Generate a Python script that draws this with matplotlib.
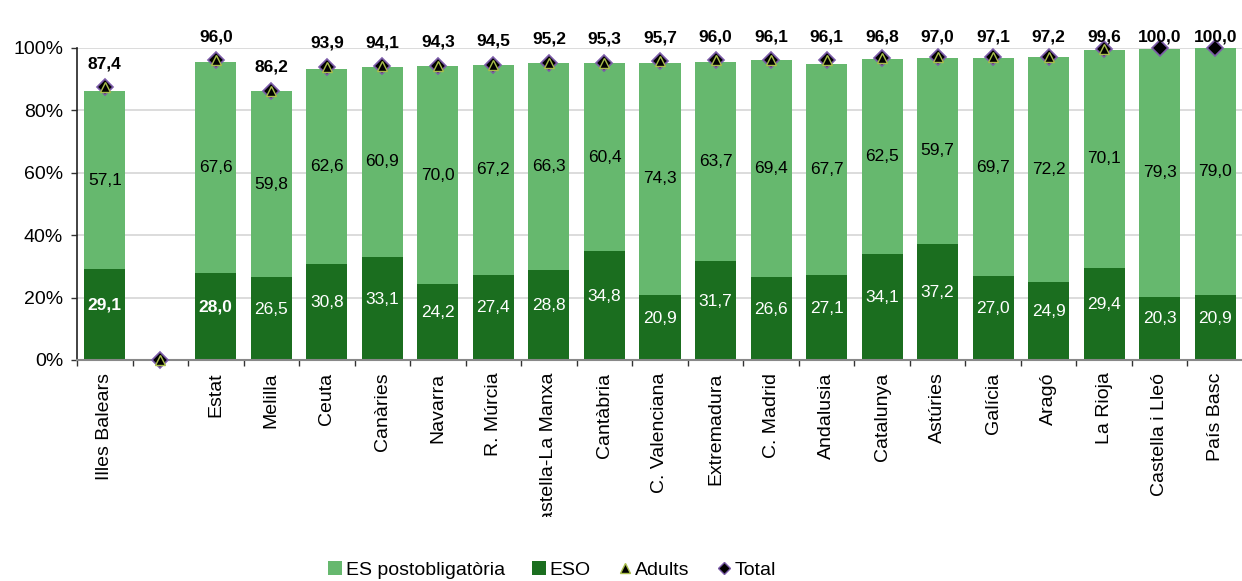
import numpy as np
import matplotlib
matplotlib.use("Agg")
import matplotlib.pyplot as plt
from matplotlib.lines import Line2D
from matplotlib.patches import Patch
from matplotlib.transforms import Bbox, TransformedBbox
from matplotlib.ticker import FixedLocator, FuncFormatter

plt.rcParams['font.family'] = ['Liberation Sans', 'DejaVu Sans']

categories = ["Illes Balears", "", "Estat", "Melilla", "Ceuta", "Canàries", "Navarra",
              "R. Múrcia", "Castella-La Manxa", "Cantàbria", "C. Valenciana", "Extremadura",
              "C. Madrid", "Andalusia", "Catalunya", "Astúries", "Galícia", "Aragó",
              "La Rioja", "Castella i Lleó", "País Basc"]
eso = [29.1, 0, 28.0, 26.5, 30.8, 33.1, 24.2, 27.4, 28.8, 34.8, 20.9, 31.7,
       26.6, 27.1, 34.1, 37.2, 27.0, 24.9, 29.4, 20.3, 20.9]
es_post = [57.1, 0, 67.6, 59.8, 62.6, 60.9, 70.0, 67.2, 66.3, 60.4, 74.3, 63.7,
           69.4, 67.7, 62.5, 59.7, 69.7, 72.2, 70.1, 79.3, 79.0]
adults = [87.4, 0, 96.0, 86.2, 93.9, 94.1, 94.3, 94.5, 95.2, 95.3, 95.7, 96.0,
          96.1, 96.1, 96.8, 97.0, 97.1, 97.2, 99.6, np.nan, np.nan]
total = [87.4, 0, 96.0, 86.2, 93.9, 94.1, 94.3, 94.5, 95.2, 95.3, 95.7, 96.0,
         96.1, 96.1, 96.8, 97.0, 97.1, 97.2, 99.6, 100.0, 100.0]
bold_eso = ["Illes Balears", "Estat"]

c_post = '#66B86E'
c_eso = '#1B6E1F'

fig = plt.figure(figsize=(12.42, 5.81), dpi=100)
ax = fig.add_axes([77/1242, (581-360)/581, (1243-77)/1242, 312/581])

x = np.arange(len(categories))
w = 0.74
ax.bar(x, eso, width=w, color=c_eso, zorder=2)
ax.bar(x, es_post, width=w, bottom=eso, color=c_post, zorder=2)

ax.plot(x, total, linestyle='none', marker='D', markersize=8.3, markerfacecolor='black',
        markeredgecolor='#7B5BA8', markeredgewidth=1.2, zorder=4, clip_on=False)
ax.plot(x, adults, linestyle='none', marker='^', markersize=7, markerfacecolor='black',
        markeredgecolor='#A9BE4A', markeredgewidth=1.0, zorder=5, clip_on=False)

def fmt(v):
    return f"{v:.1f}".replace('.', ',')

for i, cat in enumerate(categories):
    if total[i] <= 0:
        continue
    ax.text(x[i], eso[i] / 2 + 3, fmt(eso[i]), ha='center', va='center', color='white',
            fontsize=12.5, fontweight='bold' if cat in bold_eso else 'normal', zorder=6)
    ax.text(x[i], eso[i] + es_post[i] / 2, fmt(es_post[i]), ha='center', va='center',
            color='black', fontsize=12.5, zorder=6)
    ax.text(x[i], min(total[i] + 7.6, 103.6), fmt(total[i]), ha='center', va='center',
            color='black', fontsize=12.5, fontweight='bold', zorder=6, clip_on=False)

ax.set_xlim(-0.5, len(categories) - 0.5)
ax.set_ylim(0, 100)
ax.set_yticks(np.arange(0, 101, 20))
ax.yaxis.set_major_formatter(FuncFormatter(lambda v, p: f"{v:.0f}%"))
ax.grid(axis='y', color='#D9D9D9', linewidth=1.3, zorder=0)
ax.set_axisbelow(True)

ax.set_xticks(x)
ax.set_xticklabels(categories, rotation=90, fontsize=14, va='top', ha='center')
ax.xaxis.set_minor_locator(FixedLocator(np.arange(-0.5, len(categories), 1)))
ax.tick_params(axis='x', which='major', length=0, pad=9)
ax.tick_params(axis='x', which='minor', length=4.5, width=1, color='#333333')
ax.tick_params(axis='y', length=4, width=1, color='#333333', labelsize=14, pad=6)

for s in ['top', 'right']:
    ax.spines[s].set_visible(False)
ax.spines['left'].set_color('#222222')
ax.spines['bottom'].set_color('#888888')
ax.spines['left'].set_linewidth(1.2)
ax.spines['bottom'].set_linewidth(1.5)

clip = TransformedBbox(Bbox([[0, (581-517)/581], [1, 1]]), fig.transFigure)
for lab in ax.get_xticklabels():
    lab.set_clip_box(clip)
    lab.set_clip_on(True)

handles = [
    Patch(facecolor=c_post, edgecolor='none', label='ES postobligatòria'),
    Patch(facecolor=c_eso, edgecolor='none', label='ESO'),
    Line2D([], [], linestyle='none', marker='^', markersize=7, markerfacecolor='black',
           markeredgecolor='#A9BE4A', label='Adults'),
    Line2D([], [], linestyle='none', marker='D', markersize=6.5, markerfacecolor='black',
           markeredgecolor='#7B5BA8', label='Total'),
]
fig.legend(handles=handles, loc='center', bbox_to_anchor=(552/1242, (581-570)/581),
           ncol=4, frameon=False, fontsize=14, handlelength=0.7, handleheight=0.7,
           handletextpad=0.2, columnspacing=1.4, borderpad=0)

fig.savefig('out.png', dpi=100)
